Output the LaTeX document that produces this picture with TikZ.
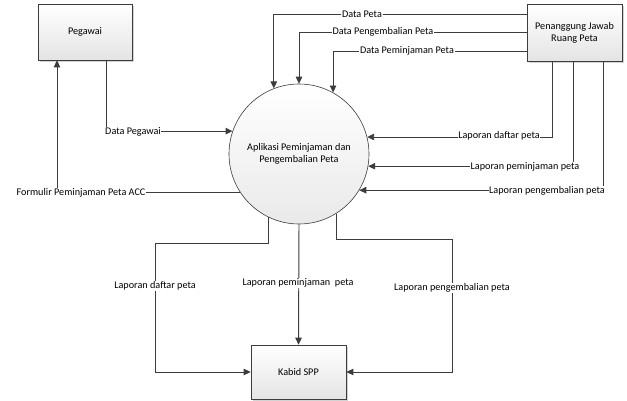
\documentclass[tikz,border=0pt]{standalone}
\usepackage{fontspec}
\setmainfont{Carlito}
\usetikzlibrary{arrows.meta,shadows}
\definecolor{linegray}{HTML}{3C3C3C}
\definecolor{boxtop}{HTML}{FFFFFF}
\definecolor{boxbot}{HTML}{E4E4E4}
\tikzset{
  entity/.style={draw=linegray, line width=0.7pt, top color=boxtop, bottom color=boxbot,
    drop shadow={shadow xshift=1.6pt, shadow yshift=-1.6pt, opacity=0.35},
    align=center, font=\fontsize{10.2}{12}\selectfont},
  process/.style={circle, draw=linegray, line width=0.6pt, top color=white, bottom color=boxbot!80,
    minimum size=140pt, inner sep=0pt, align=center, font=\fontsize{10.2}{12}\selectfont},
  flow/.style={draw=linegray, line width=0.95pt, -{Triangle[length=7pt,width=6.5pt]}},
  flowlabel/.style={fill=white, inner sep=0.6pt, font=\fontsize{10.2}{12}\selectfont}
}
\begin{document}
\begin{tikzpicture}[x=1pt, y=-1pt]
\useasboundingbox (0,0) rectangle (627,401);

% external entities and the process
\node[entity, minimum width=94pt, minimum height=56pt] (pg) at (85,32) {Pegawai};
\node[entity, minimum width=95pt, minimum height=57pt] (pj) at (574.5,32.5) {Penanggung Jawab\\Ruang Peta};
\node[entity, minimum width=95pt, minimum height=54pt] (kb) at (298.5,372) {Kabid SPP};
\node[process] (ap) at (299,154) {Aplikasi Peminjaman dan\\Pengembalian Peta};

% data from the map room officer
\draw[flow] (pj.west |- 0,14) -| (ap.111.8);
\draw[flow] (pj.west |- 0,32) -| (ap.90);
\draw[flow] (pj.west |- 0,51) -| (ap.61.9);

% reports from the map room officer
\draw[flow] (pj.south -| 552,0) |- (ap.14.9);
\draw[flow] (pj.south -| 573,0) |- (ap.-10.5);
\draw[flow] (pj.south -| 603,0) |- (ap.-31.9);

% employee flows
\draw[flow] (pg.south -| 106,0) |- (ap.161.7);
\draw[flow] (ap.213.9) -| (pg.south -| 57,0);

% reports to Kabid SPP
\draw[flow] (ap.244.6) |- (155,243) |- (kb.west);
\draw[flow] (ap.270) -- (kb.north);
\draw[flow] (ap.302.9) |- (452,239) |- (kb.east);

% flow labels
\node[flowlabel] (l1) at (362,14) {Data Peta};
\node[flowlabel] (l2) at (383,32) {Data Pengembalian Peta};
\node[flowlabel] (l3) at (407,51) {Data Peminjaman Peta};
\node[flowlabel] (l4) at (499,136) {Laporan daftar peta};
\node[flowlabel] (l5) at (525,167) {Laporan peminjaman peta};
\node[flowlabel] (l6) at (547,191) {Laporan pengembalian peta};
\node[flowlabel] (l7) at (133,132) {Data Pegawai};
\node[flowlabel] (l8) at (81,193) {Formulir Peminjaman Peta ACC};
\node[flowlabel] (l9) at (155,286) {Laporan daftar peta};
\node[flowlabel] (l10) at (298,283) {Laporan peminjaman\ \ peta};
\node[flowlabel] (l11) at (452,288) {Laporan pengembalian peta};
\end{tikzpicture}
\end{document}
